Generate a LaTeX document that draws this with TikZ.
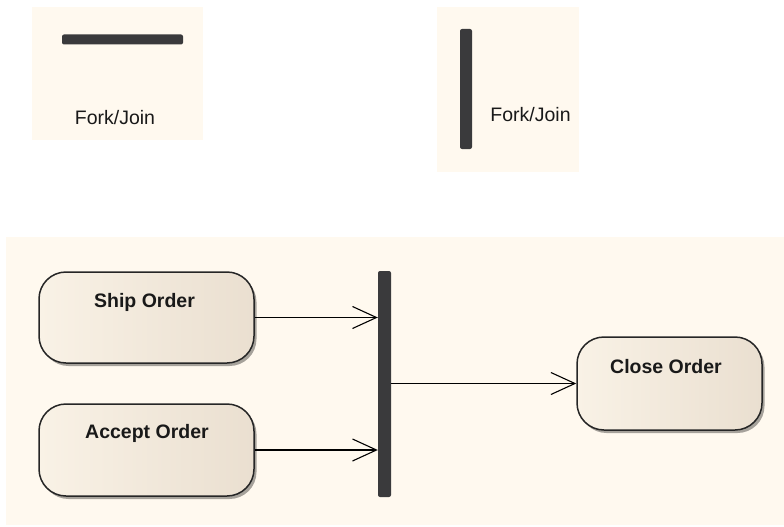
\documentclass[tikz,border=0pt]{standalone}
\usepackage{fontspec}
\setmainfont{Liberation Sans}
\usetikzlibrary{arrows.meta,shadows}
\definecolor{panelc}{HTML}{FFF9EF}
\definecolor{boxl}{HTML}{F9F2E6}
\definecolor{boxr}{HTML}{EADFD0}
\definecolor{barc}{HTML}{3A3A3C}
\begin{document}
\begin{tikzpicture}[x=1pt,y=-1pt,
  panel/.style={fill=panelc,draw=none},
  bar/.style={rectangle,fill=barc,draw=none,rounded corners=2pt,inner sep=0pt},
  actbox/.style={rectangle,rounded corners=27pt,draw=black!85,line width=1.5pt,
    left color=boxl,right color=boxr,inner sep=0pt,
    drop shadow={shadow xshift=2.5pt,shadow yshift=-3pt,opacity=0.35,fill=black}},
  boxlabel/.style={font=\fontsize{19.5}{22}\selectfont\bfseries,text=black!90,inner sep=0pt},
  fjlabel/.style={font=\fontsize{19.5}{22}\selectfont,text=black!90,inner sep=0pt},
  flow/.style={line width=1.1pt,-{Straight Barb[length=24pt,width=22pt,line width=1.1pt]}}]
\useasboundingbox (0,0) rectangle (784,527);
% panels
\fill[panel] (32,7) rectangle (203,140);
\fill[panel] (437,7) rectangle (579,172);
\fill[panel] (6,237) rectangle (784,525);
% legend fork/join bars
\node[bar,minimum width=121pt,minimum height=10pt] (hbar) at (122.5,39.5) {};
\node[fjlabel] (hlabel) at (115,118) {Fork/Join};
\node[bar,minimum width=12pt,minimum height=120pt] (vbar) at (466,89) {};
\node[fjlabel] (vlabel) at (530.5,115) {Fork/Join};
% activities
\node[actbox,minimum width=215pt,minimum height=91pt] (ship) at (146.5,317.5) {};
\node[boxlabel] (shipl) at (144.5,302) {Ship Order};
\node[actbox,minimum width=215pt,minimum height=92pt] (accept) at (146.5,450) {};
\node[boxlabel] (acceptl) at (147,433) {Accept Order};
\node[actbox,minimum width=185pt,minimum height=93pt] (close) at (669.5,383.5) {};
\node[boxlabel] (closel) at (666,367) {Close Order};
% join bar
\node[bar,minimum width=13pt,minimum height=226pt] (join) at (384.5,384) {};
% flows
\draw[flow] (ship.east) -- (join.west |- ship.east);
\draw[flow] (accept.east) -- (join.west |- accept.east);
\draw[flow] (join.east |- close.west) -- (close.west);
\end{tikzpicture}
\end{document}
